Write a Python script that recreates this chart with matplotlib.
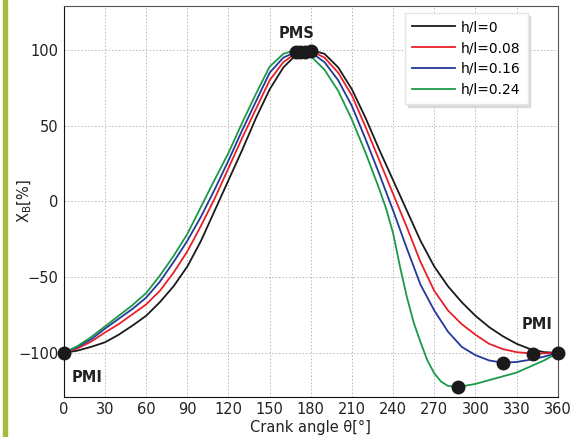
import numpy as np
import matplotlib
matplotlib.use('Agg')
import matplotlib.pyplot as plt
from matplotlib.patches import Rectangle

# curves (crank angle in deg, X_B in %)
theta_h0 = [0, 10, 20, 30, 40, 50, 60, 70, 80, 90, 100, 110, 120, 130, 140, 150, 160, 170, 180,
            190, 200, 210, 220, 230, 240, 250, 260, 270, 280, 290, 300, 310, 320, 330, 340, 350, 360]
xb_h0 = [-100, -98.5, -96, -93, -88, -82, -75.5, -66.5, -56, -43, -26, -6, 14, 34, 55, 74, 88.5, 97.5, 100,
         97.5, 88.5, 74, 55, 34, 14, -6, -26, -43, -56, -66.5, -75.5, -83, -89, -94, -97.5, -99.5, -100]

theta_h08 = [0, 10, 20, 30, 40, 50, 60, 70, 80, 90, 100, 110, 120, 130, 140, 150, 160, 170, 176,
             180, 190, 200, 210, 220, 230, 240, 250, 260, 270, 280, 290, 300, 310, 320, 330, 342, 350, 360]
xb_h08 = [-100, -97, -92.5, -86.5, -81, -74.5, -68, -59, -47, -33, -16, 2, 22, 42, 61, 80, 92, 98.5, 100,
          99.5, 95, 85, 70, 49, 27, 5, -17, -40, -59, -72, -81, -88, -94, -97.5, -99.5, -100.5, -100.3, -100]

theta_h16 = [0, 10, 20, 30, 40, 50, 60, 70, 80, 90, 100, 110, 120, 130, 140, 150, 160, 172,
             180, 190, 200, 210, 220, 230, 240, 250, 260, 270, 280, 290, 300, 310, 320, 330, 340, 350, 360]
xb_h16 = [-100, -96, -91, -84, -77.5, -71, -63.5, -53, -40, -26, -10, 8, 27, 47, 66, 85, 95, 100,
          98.5, 92, 80, 63, 41, 18, -6, -31, -55, -72, -86, -96, -101.5, -105, -106.5, -106, -104.5, -102.5, -100]

theta_h24 = [0, 10, 20, 30, 40, 50, 60, 70, 80, 90, 100, 110, 120, 130, 140, 150, 160, 169,
             180, 190, 200, 210, 220, 230, 235, 240, 245, 250, 255, 260, 265, 270, 275, 280, 287,
             300, 310, 320, 330, 340, 350, 360]
xb_h24 = [-100, -95.5, -89.5, -82.5, -75.5, -68.5, -60.5, -49, -36, -21.5, -3.5, 14.5, 32, 52, 71, 89, 97.5, 100,
          96, 87, 73, 54, 32, 8, -5, -21, -43, -63, -80, -93, -105, -113.5, -119, -121.8, -122.6,
          -120.5, -118, -115.5, -113, -109, -105, -100]

labels = ['h/l=0', 'h/l=0.08', 'h/l=0.16', 'h/l=0.24']
colors = ['#1a1a1a', '#e8202a', '#23399b', '#1a9a48']

# dead centre markers
pms_theta = [169, 172, 176, 180]
pms_xb = [99, 99, 99, 99.5]
pmi_theta = [0, 360, 342, 320, 287]
pmi_xb = [-100, -100, -100.5, -106.5, -122.6]

fig = plt.figure(figsize=(5.75, 4.37), dpi=100)
fig.patches.append(Rectangle((0.006, 0), 0.007, 1, transform=fig.transFigure,
                             color='#a3bd3a', zorder=0))
ax = fig.add_axes([0.111, 0.092, 0.859, 0.894])

curves = [(theta_h0, xb_h0), (theta_h08, xb_h08), (theta_h16, xb_h16), (theta_h24, xb_h24)]
for (t, v), lab, c in zip(curves, labels, colors):
    ax.plot(t, v, color=c, lw=1.3, label=lab, solid_joinstyle='round')

ax.plot(pms_theta, pms_xb, 'o', color='#1a1a1a', ms=9, clip_on=False, zorder=5)
ax.plot(pmi_theta, pmi_xb, 'o', color='#1a1a1a', ms=9, clip_on=False, zorder=5)

ax.text(169.5, 111, 'PMS', fontsize=10.5, fontweight='bold', ha='center', va='center', color='#222222')
ax.text(17, -116, 'PMI', fontsize=10.5, fontweight='bold', ha='center', va='center', color='#222222')
ax.text(345, -81, 'PMI', fontsize=10.5, fontweight='bold', ha='center', va='center', color='#222222')

ax.set_xlim(0, 360)
ax.set_ylim(-129, 129)
ax.set_xticks(np.arange(0, 361, 30))
ax.set_yticks([-100, -50, 0, 50, 100])
ax.tick_params(length=0, labelsize=10.5, pad=4, colors='#222222')
ax.grid(True, color='#b8b8b8', ls=(0, (1.5, 2)), lw=0.7)
for s in ['top', 'right']:
    ax.spines[s].set_color('#555555')
for s in ['left', 'bottom']:
    ax.spines[s].set_color('#111111')

ax.set_xlabel('Crank angle θ[°]', fontsize=10.5, labelpad=2, color='#222222')
ax.set_ylabel(r'X$_\mathregular{B}$[%]', fontsize=10.5, color='#222222')
ax.yaxis.set_label_coords(-0.061, 0.5)

leg = ax.legend(loc='upper right', bbox_to_anchor=(0.939, 0.982), borderaxespad=0,
                fontsize=10, handlelength=3.1, fancybox=False,
                shadow={'color': '#c8c8c8', 'alpha': 0.6, 'ox': 2, 'oy': -2},
                framealpha=1, edgecolor='#e6e6e6', borderpad=0.5, labelspacing=0.5,
                handletextpad=0.4)

fig.savefig('out.png', dpi=100)
